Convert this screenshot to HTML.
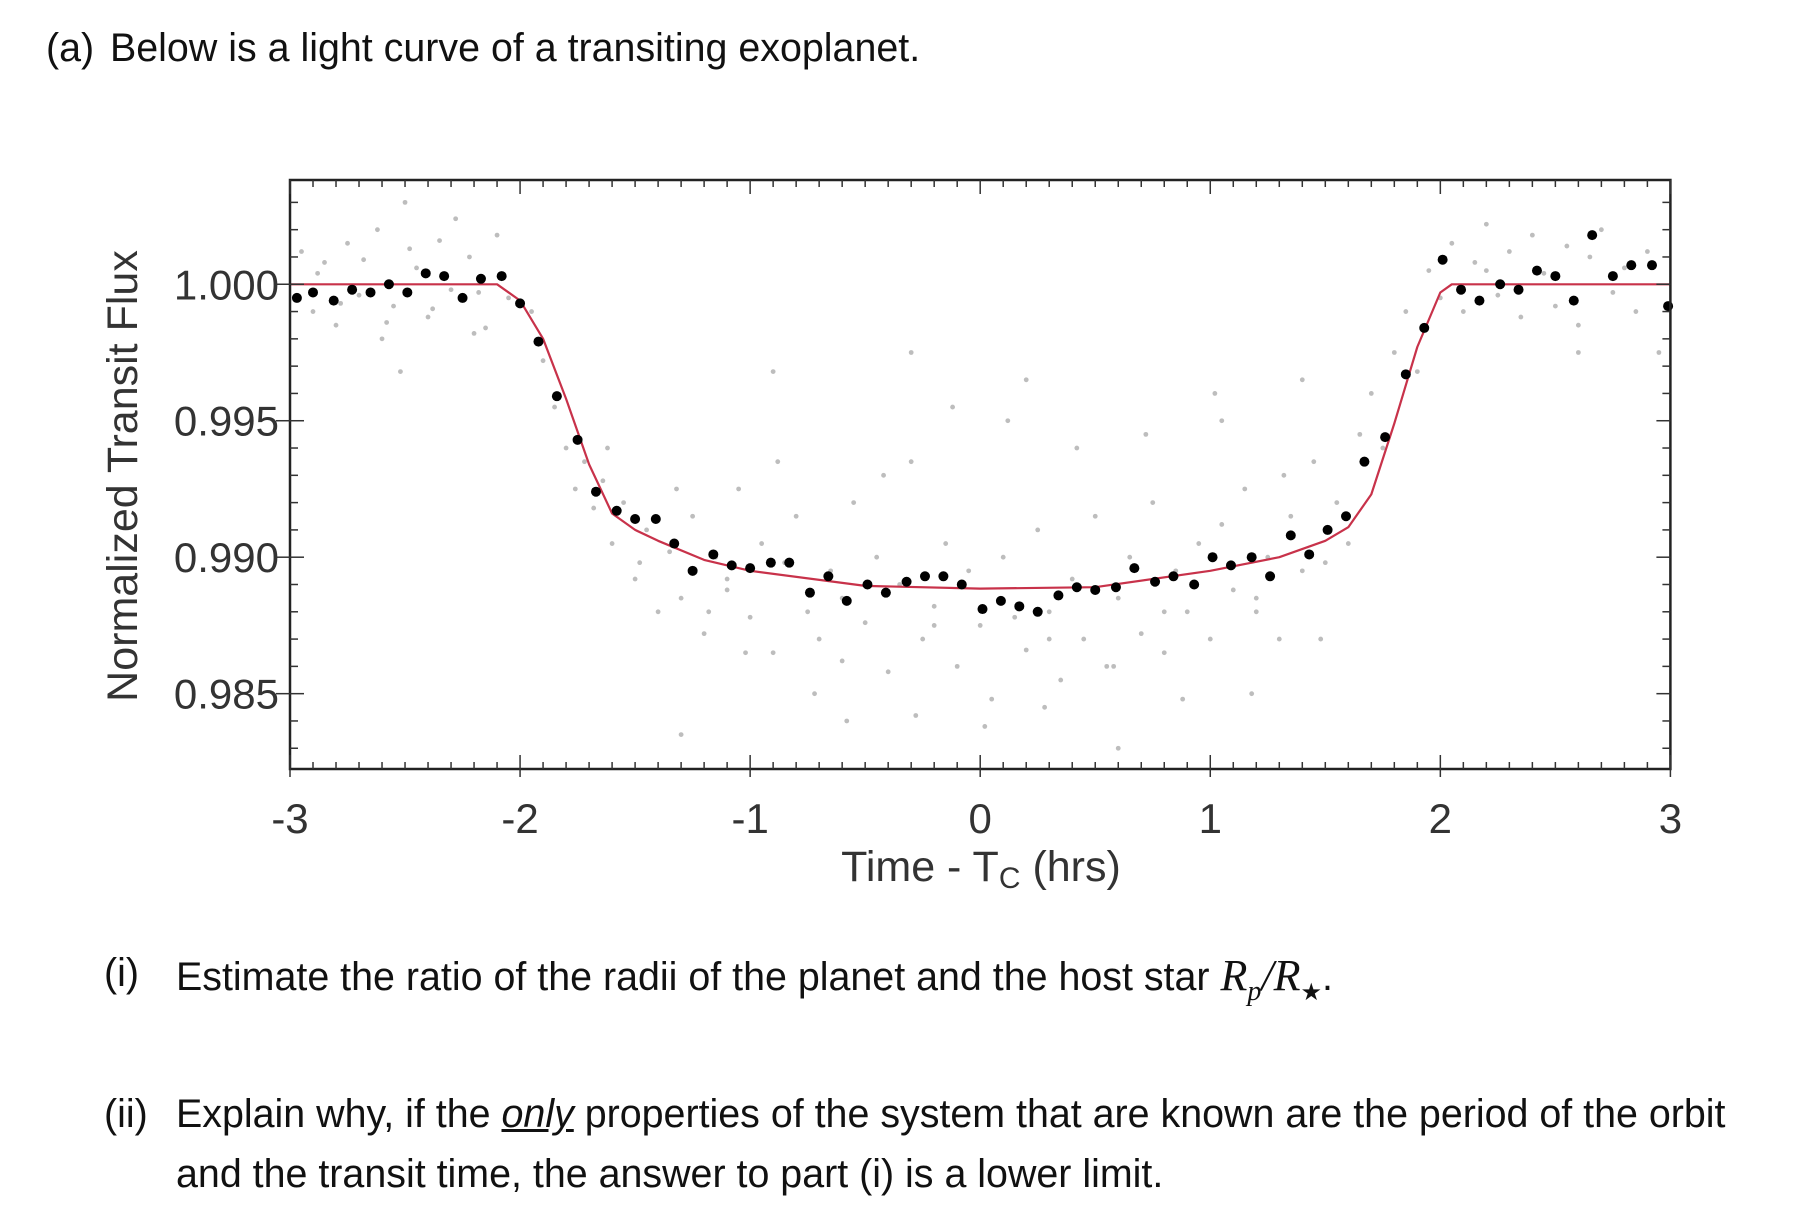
<!DOCTYPE html>
<html><head><meta charset="utf-8">
<style>
html,body{margin:0;padding:0;background:#fff;}
body{width:1818px;height:1222px;position:relative;overflow:hidden;font-family:"Liberation Sans",Arial,sans-serif;color:#111;}
.t{position:absolute;font-size:39.4px;white-space:nowrap;line-height:1;}
.m{font-family:"Liberation Serif",serif;font-style:italic;font-size:44px;}
</style></head>
<body>
<div class="t" style="left:46px;top:29px;">(a)</div>
<div class="t" style="left:110px;top:29px;">Below is a light curve of a transiting exoplanet.</div>
<svg id="chart" width="1818" height="920" style="position:absolute;left:0;top:0;" xmlns="http://www.w3.org/2000/svg"></svg>
<div class="t" style="left:104px;top:954px;">(i)</div>
<div class="t" style="left:176px;top:954px;">Estimate the ratio of the radii of the planet and the host star <span class="m">R<sub style="font-size:28px">p</sub>/R<sub style="font-size:24px;font-style:normal">★</sub></span>.</div>
<div class="t" style="left:104px;top:1095px;">(ii)</div>
<div class="t" style="left:176px;top:1095px;">Explain why, if the <i><u>only</u></i> properties of the system that are known are the period of the orbit</div>
<div class="t" style="left:176px;top:1155px;">and the transit time, the answer to part (i) is a lower limit.</div>
<script>
const binT=[-2.97,-2.90,-2.81,-2.73,-2.65,-2.57,-2.49,-2.41,-2.33,-2.25,-2.17,-2.08,-2.00,-1.92,-1.84,-1.75,-1.67,-1.58,-1.50,-1.41,-1.33,-1.25,-1.16,-1.08,-1.00,-0.91,-0.83,-0.74,-0.66,-0.58,-0.49,-0.41,-0.32,-0.24,-0.16,-0.08,0.01,0.09,0.17,0.25,0.34,0.42,0.50,0.59,0.67,0.76,0.84,0.93,1.01,1.09,1.18,1.26,1.35,1.43,1.51,1.59,1.67,1.76,1.85,1.93,2.01,2.09,2.17,2.26,2.34,2.42,2.50,2.58,2.66,2.75,2.83,2.92,2.99];
const binF=[0.9995,0.9997,0.9994,0.9998,0.9997,1.0000,0.9997,1.0004,1.0003,0.9995,1.0002,1.0003,0.9993,0.9979,0.9959,0.9943,0.9924,0.9917,0.9914,0.9914,0.9905,0.9895,0.9901,0.9897,0.9896,0.9898,0.9898,0.9887,0.9893,0.9884,0.9890,0.9887,0.9891,0.9893,0.9893,0.9890,0.9881,0.9884,0.9882,0.9880,0.9886,0.9889,0.9888,0.9889,0.9896,0.9891,0.9893,0.9890,0.9900,0.9897,0.9900,0.9893,0.9908,0.9901,0.9910,0.9915,0.9935,0.9944,0.9967,0.9984,1.0009,0.9998,0.9994,1.0000,0.9998,1.0005,1.0003,0.9994,1.0018,1.0003,1.0007,1.0007,0.9992];
const modelT=[-3,-2.1,-2.0,-1.9,-1.8,-1.7,-1.6,-1.5,-1.4,-1.2,-1.0,-0.5,0,0.5,1.0,1.3,1.5,1.6,1.7,1.8,1.9,2.0,2.05,3];
const modelF=[1,1,0.9994,0.9980,0.9958,0.9934,0.9916,0.9910,0.9906,0.9899,0.9895,0.98895,0.98885,0.9889,0.9895,0.9900,0.9906,0.9911,0.9923,0.9949,0.9977,0.9997,1,1];
const rawT=[-2.95,-2.9,-2.85,-2.8,-2.75,-2.7,-2.62,-2.55,-2.5,-2.45,-2.4,-2.35,-2.3,-2.22,-2.15,-2.1,-2.05,-2.88,-2.78,-2.68,-2.58,-2.48,-2.38,-2.28,-2.18,-2.52,-1.95,-1.9,-1.85,-1.8,-1.76,-1.72,-1.68,-1.64,-1.6,-1.55,-1.5,-1.45,-1.4,-1.35,-1.3,-1.25,-1.2,-1.15,-1.1,-1.05,-1.0,-0.95,-0.9,-0.85,-0.8,-0.75,-0.7,-0.65,-0.6,-0.55,-0.5,-0.45,-0.4,-0.35,-0.3,-0.25,-0.2,-0.15,-0.1,-0.05,0.0,0.05,0.1,0.15,0.2,0.25,0.3,0.35,0.4,0.45,0.5,0.55,0.6,0.65,0.7,0.75,0.8,0.85,0.9,0.95,1.0,1.05,1.1,1.15,1.2,1.25,1.3,1.35,1.4,1.45,1.5,1.55,1.6,1.65,1.7,1.75,1.8,1.85,1.9,1.95,2.0,2.05,2.1,2.15,2.2,2.25,2.3,2.35,2.4,2.45,2.5,2.55,2.6,2.65,2.7,2.75,2.8,2.85,2.9,2.95,-1.62,-1.48,-1.32,-1.18,-1.02,-0.88,-0.72,-0.58,-0.42,-0.28,-0.12,0.02,0.12,0.28,0.42,0.58,0.72,0.88,1.02,1.18,1.32,1.48,-1.1,-0.6,-0.2,0.3,0.8,1.2,-1.3,-0.9,-0.3,0.2,0.6,1.05,1.4,2.2,2.6,-2.6,-2.2];
const rawF=[1.0012,0.9990,1.0008,0.9985,1.0015,0.9996,1.0020,0.9992,1.0030,1.0006,0.9988,1.0016,0.9998,1.0010,0.9984,1.0018,0.9995,1.0004,0.9993,1.0009,0.9986,1.0013,0.9991,1.0024,0.9997,0.9968,0.9990,0.9972,0.9955,0.9940,0.9925,0.9935,0.9918,0.9928,0.9905,0.9920,0.9892,0.9910,0.9880,0.9902,0.9885,0.9915,0.9872,0.9900,0.9888,0.9925,0.9878,0.9905,0.9865,0.9898,0.9915,0.9880,0.9870,0.9895,0.9862,0.9920,0.9876,0.9900,0.9858,0.9890,0.9935,0.9870,0.9882,0.9905,0.9860,0.9895,0.9875,0.9848,0.9900,0.9878,0.9866,0.9910,0.9880,0.9855,0.9892,0.9870,0.9915,0.9860,0.9885,0.9900,0.9872,0.9920,0.9865,0.9895,0.9880,0.9905,0.9870,0.9912,0.9888,0.9925,0.9880,0.9900,0.9870,0.9915,0.9895,0.9935,0.9898,0.9920,0.9905,0.9945,0.9960,0.9940,0.9975,0.9990,0.9968,1.0005,0.9995,1.0015,0.9990,1.0008,1.0022,0.9996,1.0012,0.9988,1.0018,1.0004,0.9992,1.0014,0.9985,1.0010,1.0020,0.9997,1.0006,0.9990,1.0012,0.9975,0.9940,0.9898,0.9925,0.9880,0.9865,0.9935,0.9850,0.9840,0.9930,0.9842,0.9955,0.9838,0.9950,0.9845,0.9940,0.9860,0.9945,0.9848,0.9960,0.9850,0.9930,0.9870,0.9892,0.9885,0.9875,0.9870,0.9880,0.9885,0.9835,0.9968,0.9975,0.9965,0.9830,0.9950,0.9965,1.0005,0.9975,0.9980,0.9982];
const xTicks=[-3,-2,-1,0,1,2,3];
const yTicks=[0.985,0.990,0.995,1.000];
const yTickLabels=["0.985","0.990","0.995","1.000"];

const L=290,R=1670.4,T=180,B=769;
const X0=-3,X1=3,Y0=0.98224,Y1=1.00382;
function sx(v){return L+(v-X0)/(X1-X0)*(R-L);}
function sy(v){return B-(v-Y0)/(Y1-Y0)*(B-T);}
const NS="http://www.w3.org/2000/svg";
const svg=document.getElementById('chart');
function mk(tag,attrs,parent){const e=document.createElementNS(NS,tag);for(const k in attrs)e.setAttribute(k,attrs[k]);(parent||svg).appendChild(e);return e;}

for(let i=0;i<rawT.length;i++){
  const c=mk('circle',{cx:sx(rawT[i]),cy:sy(rawF[i]),r:2.4,fill:'#bdbdbd'});
  
  
}
let d='';
for(let i=0;i<modelT.length;i++){d+=(i?'L':'M')+sx(modelT[i]).toFixed(1)+' '+sy(modelF[i]).toFixed(1);}
const line=mk('path',{d:d,fill:'none',stroke:'#c8324a','stroke-width':2.2,'stroke-linejoin':'round'});


for(let i=0;i<binT.length;i++){
  const c=mk('circle',{cx:sx(binT[i]),cy:sy(binF[i]),r:5,fill:'#000'});
  
  
}
const frame=mk('rect',{x:L,y:T,width:R-L,height:B-T,fill:'none',stroke:'#222','stroke-width':2.5});


for(let k=-30;k<=30;k++){const v=k/10,x=sx(v);const len=(k%10===0)?14:7;
  mk('line',{x1:x,y1:B,x2:x,y2:B-len,stroke:'#333','stroke-width':1.5});
  mk('line',{x1:x,y1:T,x2:x,y2:T+len,stroke:'#333','stroke-width':1.5});}
for(let k=983;k<=1003;k++){const v=k/1000,y=sy(v);const len=(k%5===0)?14:8;
  mk('line',{x1:L,y1:y,x2:L+len,y2:y,stroke:'#333','stroke-width':1.5});
  mk('line',{x1:R,y1:y,x2:R-len,y2:y,stroke:'#333','stroke-width':1.5});}
xTicks.forEach(v=>{
  mk('line',{x1:sx(v),y1:B,x2:sx(v),y2:B+8,stroke:'#333','stroke-width':1.5});
  const t=mk('text',{x:sx(v),y:833,'text-anchor':'middle','font-size':42,fill:'#333','font-family':'Liberation Sans, sans-serif'});
  t.textContent=String(v);
  
  
});
yTicks.forEach((v,i)=>{
  mk('line',{x1:L-14,y1:sy(v),x2:L,y2:sy(v),stroke:'#333','stroke-width':1.5});
  const t=mk('text',{x:279,y:sy(v)+15,'text-anchor':'end','font-size':42,fill:'#333','font-family':'Liberation Sans, sans-serif'});
  t.textContent=yTickLabels[i];
  
  
});
const xt=mk('text',{x:981,y:881,'text-anchor':'middle','font-size':43,fill:'#333','font-family':'Liberation Sans, sans-serif'});
xt.innerHTML='Time - T<tspan font-size="30" dy="7">C</tspan><tspan dy="-7"> (hrs)</tspan>';


const yt=mk('text',{x:0,y:0,'text-anchor':'middle','font-size':43,fill:'#333','font-family':'Liberation Sans, sans-serif',transform:'translate(137,476) rotate(-90)'});
yt.textContent='Normalized Transit Flux';


</script>
</body></html>
